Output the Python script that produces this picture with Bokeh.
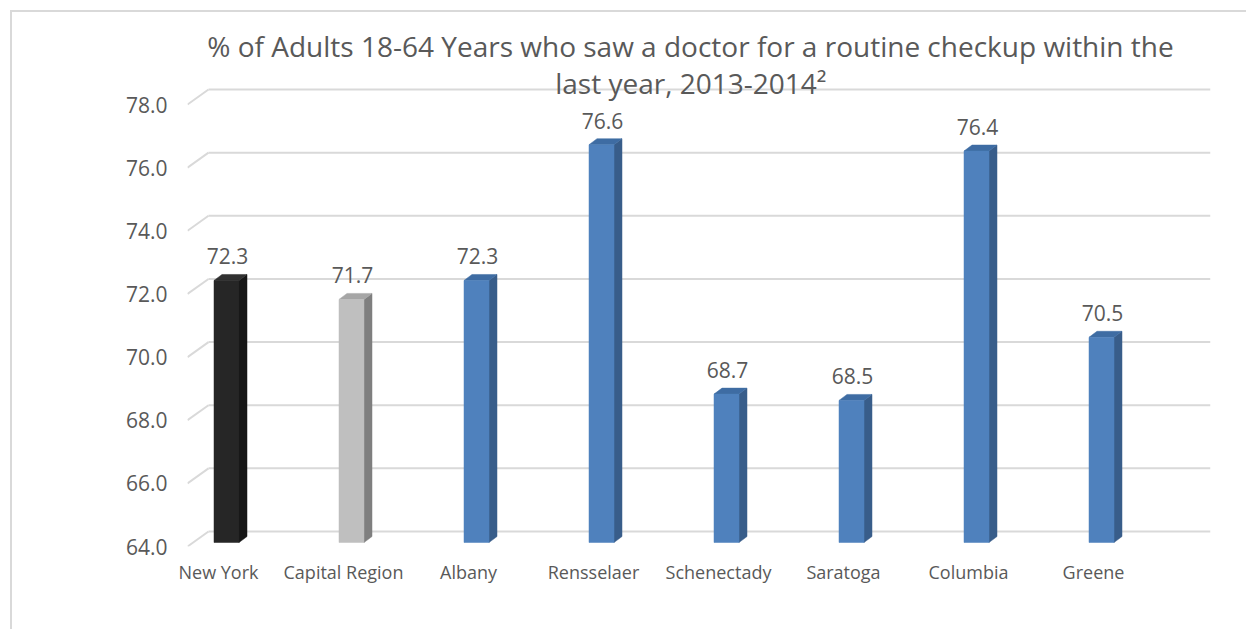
from bokeh.plotting import figure
from bokeh.models import Range1d, FixedTicker, Label, NumeralTickFormatter, CustomJSTickFormatter
from bokeh.core.properties import value
from bokeh.embed import file_html
from bokeh.resources import INLINE

# ---- data ----
categories = ["New York", "Capital Region", "Albany", "Rensselaer",
              "Schenectady", "Saratoga", "Columbia", "Greene"]
values = [72.3, 71.7, 72.3, 76.6, 68.7, 68.5, 76.4, 70.5]
y_ticks = [64, 66, 68, 70, 72, 74, 76, 78]
title_line1 = "% of Adults 18-64 Years who saw a doctor for a routine checkup within the"
title_line2 = "last year,  2013-2014\u00b2"

# ---- styling ----
FRONT = {"New York": "#262626", "Capital Region": "#bfbfbf"}
SIDE = {"New York": "#161616", "Capital Region": "#7f7f7f"}
TOP = {"New York": "#303030", "Capital Region": "#a6a6a6"}
BLUE_FRONT, BLUE_SIDE, BLUE_TOP = "#4f81bd", "#385d8a", "#3e6ca3"
TEXT = "#595959"
GRID = "#d9d9d9"
FONT = "Open Sans"

OFF = 12               # page offset of canvas (border margin)
W, H = 1248 - OFF, 631 - OFF
PX_X = 125.0          # pixels per category step
PX_Y = 31.57          # pixels per unit on value axis
frame_left_page, frame_right_page = 187, 1210
frame_top_page, frame_bottom_page = 20, 546
label0_page = 218      # page x of first category label centre

x0 = (frame_left_page - label0_page) / PX_X
x1 = (frame_right_page - label0_page) / PX_X
y0 = y_ticks[0]
y1 = y0 + (frame_bottom_page - frame_top_page) / PX_Y

def dx(px):
    return px / PX_X

def dy(px):
    return px / PX_Y

p = figure(width=W, height=H, output_backend="svg", toolbar_location=None,
           x_range=Range1d(x0, x1), y_range=Range1d(y0, y1),
           min_border_left=frame_left_page - OFF, min_border_right=W - (frame_right_page - OFF),
           min_border_top=frame_top_page - OFF, min_border_bottom=H - (frame_bottom_page - OFF),
           styles={"border-left": "2px solid #d9d9d9", "border-top": "2px solid #d9d9d9",
                   "margin-left": "10px", "margin-top": "10px"})
p.outline_line_color = None
p.background_fill_color = "white"
p.border_fill_color = "white"
p.xgrid.visible = False
p.ygrid.visible = False

# back-wall gridlines + side diagonals
back_dx, back_dy = dx(21), dy(15)
for t in y_ticks:
    p.segment(x0=[x0], y0=[t], x1=[x0 + back_dx], y1=[t + back_dy], line_color=GRID, line_width=2)
    p.segment(x0=[x0 + back_dx], y0=[t + back_dy], x1=[x1], y1=[t + back_dy], line_color=GRID, line_width=2)

# bars (pseudo-3D)
bar_shift = dx(8)
half_w = dx(12.5)
lift = dy(4)
depth_x, depth_y = dx(8), dy(6)
for i, (c, v) in enumerate(zip(categories, values)):
    fc = FRONT.get(c, BLUE_FRONT)
    sc = SIDE.get(c, BLUE_SIDE)
    tc = TOP.get(c, BLUE_TOP)
    xc = i + bar_shift
    xl, xr = xc - half_w, xc + half_w
    yb, yt = y0 + lift, v + lift
    p.patch(x=[xr, xr, xr + depth_x, xr + depth_x], y=[yb, yt, yt + depth_y, yb + depth_y],
            fill_color=sc, line_color=sc, line_width=0.5)
    p.patch(x=[xl, xl + depth_x, xr + depth_x, xr], y=[yt, yt + depth_y, yt + depth_y, yt],
            fill_color=tc, line_color=tc, line_width=0.5)
    p.quad(left=[xl], right=[xr], bottom=[yb], top=[yt], fill_color=fc, line_color=fc, line_width=0.5)

# data labels
p.text(x=[i + bar_shift + dx(1) for i in range(len(values))],
       y=[v + lift + dy(24) for v in values],
       text=[f"{v:.1f}" for v in values],
       text_align="center", text_baseline="middle",
       text_font=value(FONT), text_font_size="21px", text_color=TEXT)

# axes
p.yaxis.ticker = FixedTicker(ticks=y_ticks)
p.yaxis.formatter = NumeralTickFormatter(format="0.0")
p.yaxis.axis_line_color = None
p.yaxis.major_tick_line_color = None
p.yaxis.minor_tick_line_color = None
p.yaxis.major_label_standoff = 14
p.yaxis.major_label_text_font = FONT
p.yaxis.major_label_text_font_size = "21px"
p.yaxis.major_label_text_color = TEXT

p.xaxis.ticker = FixedTicker(ticks=list(range(len(categories))))
p.xaxis.formatter = CustomJSTickFormatter(args=dict(names=categories),
                                          code="return names[Math.round(tick)];")
p.xaxis.axis_line_color = None
p.xaxis.major_tick_line_color = None
p.xaxis.minor_tick_line_color = None
p.xaxis.major_label_standoff = 7
p.xaxis.major_label_text_font = FONT
p.xaxis.major_label_text_font_size = "18px"
p.xaxis.major_label_text_color = TEXT

# title (two lines)
p.add_layout(Label(x=(690 - label0_page) / PX_X, y=y0 + dy(frame_bottom_page - 45), text=title_line1,
                   text_align="center", text_baseline="middle",
                   text_font=FONT, text_font_size="28px", text_color=TEXT))
p.add_layout(Label(x=(694 - label0_page) / PX_X, y=y0 + dy(frame_bottom_page - 82), text=title_line2,
                   text_align="center", text_baseline="middle",
                   text_font=FONT, text_font_size="28px", text_color=TEXT))

open("out.html", "w").write(file_html(p, INLINE))
